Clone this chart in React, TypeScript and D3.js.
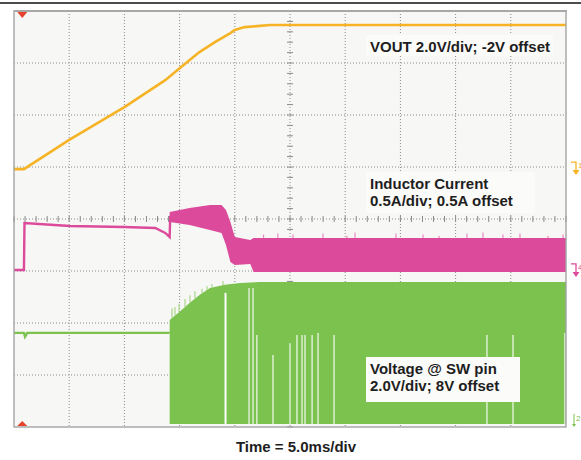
import * as d3 from 'd3'

const width = 581
const height = 460

// time axis: 5 ms/div, 10 divisions
const timeDomain = [0, 50]

// CH1 VOUT (V)
const voutTime = [0, 0.9, 5.0, 10.0, 13.7, 15.0, 16.8, 18.2, 19.6, 20.0, 20.9, 23.2, 50]
const voutVal = [0, 0, 1.12, 2.38, 3.42, 3.88, 4.5, 4.88, 5.23, 5.35, 5.46, 5.54, 5.54]

// CH4 inductor current (A): trace before switching, then switching envelope
const ilTime = [0, 0.9, 0.95, 5.07, 9.96, 12.8, 13.7, 14.1, 14.15]
const ilVal = [0, 0, 0.452, 0.423, 0.413, 0.404, 0.356, 0.317, 0.52]
const ilBandTime = [14.1, 15.9, 17.75, 18.8, 19.2, 19.6, 20.0, 21.4, 21.7, 50]
const ilBandHigh = [0.558, 0.596, 0.625, 0.625, 0.577, 0.46, 0.317, 0.288, 0.308, 0.308]
const ilBandLow = [0.462, 0.433, 0.385, 0.356, 0.24, 0.077, 0.048, 0.058, -0.019, -0.019]
const ilSpikeTime = [22.6, 23.9, 25.27, 27.99, 30.16, 30.89, 34.6, 37.05, 38.5, 41.03, 42.48, 44.29, 45.83, 48.37, 49.73]
const ilSpikeVal = [0.34, 0.35, 0.34, 0.35, 0.33, 0.36, 0.35, 0.34, 0.33, 0.35, 0.36, 0.34, 0.35, 0.33, 0.34]

// CH2 SW pin (V)
const swTime = [0, 0.9, 1.0, 1.2, 14.1]
const swVal = [3.5, 3.5, 3.35, 3.5, 3.5]
const swBandTime = [14.1, 15.0, 15.9, 16.8, 17.75, 19.1, 20.5, 22.3, 50]
const swBandHigh = [4.0, 4.31, 4.65, 4.96, 5.23, 5.35, 5.42, 5.46, 5.46]
const swSpikeTime = [14.31, 14.58, 14.95, 15.49, 15.94, 16.39, 17.03, 17.48, 17.93, 18.93]
const swSpikeVal = [4.45, 4.5, 4.62, 4.8, 4.95, 5.1, 5.2, 5.3, 5.38, 5.5]
const swGapTime = [19.16, 21.29, 21.65, 22.0, 23.46, 25.0, 25.63, 26.09, 26.36, 27.0, 27.54, 28.99, 42.84, 45.2, 49.9]
const swGapTop = [5.04, 5.23, 5.23, 3.42, 2.65, 3.1, 3.42, 3.42, 3.42, 3.42, 3.5, 3.42, 3.42, 3.42, 3.5]

// channel settings: units/div and ground position (div from centre)
const ch1 = { perDiv: 2, pos: 0.96, color: '#f5b325' }
const ch4 = { perDiv: 0.5, pos: -0.98, color: '#dc4a9b' }
const ch2 = { perDiv: 2, pos: -3.94, color: '#7bc24e' }

const left = 14
const right = 566
const top = 11
const bottom = 427

const x = d3.scaleLinear().domain(timeDomain).range([left, right])
const yDiv = d3.scaleLinear().domain([-4, 4]).range([bottom, top])
const yOf = (ch: { perDiv: number; pos: number }) => (v: number) => yDiv(v / ch.perDiv + ch.pos)

const y1 = yOf(ch1)
const y4 = yOf(ch4)
const y2 = yOf(ch2)

const font = 'Arial, "Liberation Sans", sans-serif'

function Label({ x0, y0, w, h, lines }: { x0: number; y0: number; w: number; h: number; lines: string[] }) {
  return (
    <g>
      <rect x={x0} y={y0} width={w} height={h} fill="#fbfbf9" />
      {lines.map((s, i) => (
        <text key={i} x={x0 + 4} y={y0 + 17 + i * 17} fontFamily={font} fontWeight="bold" fontSize={15} fill="#1e1e1e">
          {s}
        </text>
      ))}
    </g>
  )
}

function Marker({ yPos, color, label }: { yPos: number; color: string; label: string }) {
  return (
    <g stroke={color} fill={color}>
      <path d={`M571,${yPos - 5} H576 V${yPos + 4}`} fill="none" strokeWidth={1.3} />
      <path d={`M572.5,${yPos + 3} L579.5,${yPos + 3} L576,${yPos + 8} Z`} stroke="none" />
      <text x={578} y={yPos + 1} fontSize={8} fontFamily={font} stroke="none">
        {label}
      </text>
    </g>
  )
}

export default function App() {
  const voutLine = d3.line<number>().x((_, i) => x(voutTime[i])).y((d) => y1(d))(voutVal)
  const ilLine = d3.line<number>().x((_, i) => x(ilTime[i])).y((d) => y4(d))(ilVal)
  const ilArea = d3
    .area<number>()
    .x((_, i) => x(ilBandTime[i]))
    .y0((_, i) => y4(ilBandLow[i]))
    .y1((d) => y4(d))(ilBandHigh)
  const swLine = d3.line<number>().x((_, i) => x(swTime[i])).y((d) => y2(d))(swVal)
  const swArea = d3
    .area<number>()
    .x((_, i) => x(swBandTime[i]))
    .y0(y2(0))
    .y1((d) => y2(d))(swBandHigh)

  const ilAt = (t: number) => y4(d3.scaleLinear().domain(ilBandTime).range(ilBandHigh)(t))
  const swAt = (t: number) => y2(d3.scaleLinear().domain(swBandTime).range(swBandHigh)(t))

  const vGrid = d3.range(1, 10).map((k) => x(k * 5))
  const hGrid = d3.range(-3, 4).map((k) => yDiv(k))
  const xTicks = d3.range(0, 50.01, 1).map((t) => x(t))
  const yTicks = d3.range(-4, 4.01, 0.2).map((k) => yDiv(k))

  return (
    <svg width={width} height={height} style={{ position: 'absolute', left: 0, top: 0, background: '#fff' }}>
      <line x1={0} x2={width} y1={3} y2={3} stroke="#111" strokeWidth={1.5} />
      <rect x={left} y={top} width={right - left} height={bottom - top} fill="#f7f7f5" />

      {/* grid */}
      <g stroke="#8a8a8a" strokeWidth={1} strokeDasharray="1,2">
        {vGrid.map((gx, i) => (
          <line key={'v' + i} x1={gx} x2={gx} y1={top} y2={bottom} />
        ))}
        {hGrid.map((gy, i) => (
          <line key={'h' + i} x1={left} x2={right} y1={gy} y2={gy} />
        ))}
      </g>
      <g stroke="#8a8a8a" strokeWidth={1}>
        {xTicks.map((tx, i) => (
          <line key={'xt' + i} x1={tx} x2={tx} y1={yDiv(0) - 3} y2={yDiv(0) + 3} />
        ))}
        {yTicks.map((ty, i) => (
          <line key={'yt' + i} x1={x(25) - 3} x2={x(25) + 3} y1={ty} y2={ty} />
        ))}
      </g>

      {/* SW pin */}
      <path d={swArea ?? ''} fill={ch2.color} />
      <path d={swLine ?? ''} fill="none" stroke={ch2.color} strokeWidth={2.4} />
      {swSpikeTime.map((t, i) => (
        <line key={'ss' + i} x1={x(t)} x2={x(t)} y1={swAt(t)} y2={y2(swSpikeVal[i])} stroke="#a9d68a" strokeWidth={1.2} />
      ))}
      {swGapTime.map((t, i) => (
        <line key={'sg' + i} x1={x(t)} x2={x(t)} y1={y2(swGapTop[i])} y2={y2(0)} stroke="#fff" strokeWidth={i === 0 ? 2 : 1.1} />
      ))}

      {/* inductor current */}
      <path d={ilArea ?? ''} fill={ch4.color} />
      <path d={ilLine ?? ''} fill="none" stroke={ch4.color} strokeWidth={2.4} />
      {ilSpikeTime.map((t, i) => (
        <line key={'is' + i} x1={x(t)} x2={x(t)} y1={ilAt(t)} y2={y4(ilSpikeVal[i])} stroke="#e88cc0" strokeWidth={1.2} />
      ))}

      {/* VOUT */}
      <path d={voutLine ?? ''} fill="none" stroke={ch1.color} strokeWidth={2.6} />

      {/* plot frame */}
      <rect x={left} y={top} width={right - left} height={bottom - top} fill="none" stroke="#a3a3a3" strokeWidth={1.4} />
      <line x1={left} x2={right + 1} y1={top} y2={top} stroke="#a8a8a8" strokeWidth={2.2} />

      {/* trigger markers */}
      <path d={`M${x(0.75) - 5},${top + 1} L${x(0.75) + 5},${top + 1} L${x(0.75)},${top + 7} Z`} fill="#e8412c" />
      <path d={`M${x(0.75) - 5},${bottom - 1} L${x(0.75) + 5},${bottom - 1} L${x(0.75)},${bottom - 6} Z`} fill="#e8412c" />

      <Marker yPos={yDiv(ch1.pos) - 2} color={ch1.color} label="1" />
      <Marker yPos={yDiv(ch4.pos) - 1} color={ch4.color} label="4" />
      <g stroke={ch2.color} fill={ch2.color}>
        <line x1={574} x2={574} y1={yDiv(ch2.pos) - 10} y2={yDiv(ch2.pos) + 1} strokeWidth={1} />
        <path d={`M572,${yDiv(ch2.pos)} L576,${yDiv(ch2.pos)} L574,${yDiv(ch2.pos) + 3} Z`} stroke="none" />
        <text x={576} y={yDiv(ch2.pos) - 3} fontSize={8} fontFamily={font} stroke="none">
          2
        </text>
      </g>

      <Label x0={366} y0={35} w={187} h={21} lines={['VOUT 2.0V/div; -2V offset']} />
      <Label x0={366} y0={172} w={169} h={41} lines={['Inductor Current', '0.5A/div; 0.5A offset']} />
      <Label x0={366} y0={357} w={154} h={45} lines={['Voltage @ SW pin', '2.0V/div; 8V offset']} />

      <text x={296} y={452} textAnchor="middle" fontFamily={font} fontWeight="bold" fontSize={15} fill="#1e1e1e">
        Time = 5.0ms/div
      </text>
    </svg>
  )
}
